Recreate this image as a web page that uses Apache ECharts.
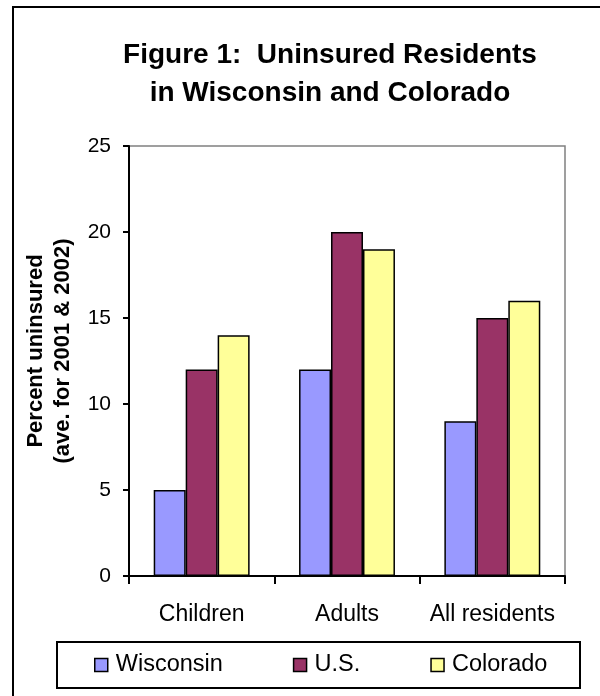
<!DOCTYPE html>
<html>
<head>
<meta charset="utf-8">
<script src="https://cdn.jsdelivr.net/npm/echarts@6/dist/echarts.min.js"></script>
<style>
  html, body { margin: 0; padding: 0; background: #fff; overflow: hidden; }
  #chart { width: 600px; height: 696px; }
</style>
</head>
<body>
<div id="chart"></div>
<script>
// Uninsured residents, average for 2001 & 2002 (percent)
const categories = ['Children', 'Adults', 'All residents'];
const seriesNames = ['Wisconsin', 'U.S.', 'Colorado'];
const wisconsin = [5, 12, 9];
const unitedStates = [12, 20, 15];
const colorado = [14, 19, 16];
const yTicks = [0, 5, 10, 15, 20, 25];

const colors = ['#9999FF', '#993366', '#FFFF99'];
const font = 'Arial, "Liberation Sans", sans-serif';

const chart = echarts.init(document.getElementById('chart'), null, { renderer: 'canvas' });

function barSeries(name, data, color) {
  return {
    name: name,
    type: 'bar',
    data: data,
    barGap: '0%',
    barCategoryGap: '34%',
    itemStyle: { color: color, borderColor: '#000', borderWidth: 1.5 },
    emphasis: { disabled: true }
  };
}

chart.setOption({
  animation: false,
  backgroundColor: '#fff',
  textStyle: { fontFamily: font },
  title: {
    text: 'Figure 1:  Uninsured Residents\nin Wisconsin and Colorado',
    left: 330,
    top: 36,
    padding: 0,
    textAlign: 'center',
    textStyle: { fontFamily: font, fontSize: 28, fontWeight: 'bold', color: '#000', lineHeight: 38 }
  },
  grid: {
    left: 129, right: 35, top: 146, bottom: 120,
    show: true, borderColor: '#808080', borderWidth: 1.5, backgroundColor: '#fff'
  },
  legend: {
    data: seriesNames,
    left: 94,
    top: 653,
    padding: 0,
    icon: 'rect',
    itemWidth: 13,
    itemHeight: 13,
    itemGap: 70,
    itemStyle: { borderColor: '#000', borderWidth: 1.5 },
    textStyle: { fontFamily: font, fontSize: 23.5, lineHeight: 24, color: '#000', padding: [0, 0, 0, 3] }
  },
  xAxis: {
    type: 'category',
    data: categories,
    axisLine: { lineStyle: { color: '#000', width: 2 } },
    axisTick: { show: true, length: 8, lineStyle: { color: '#000', width: 2 } },
    axisLabel: { interval: 0, color: '#000', fontSize: 23, margin: 27, fontFamily: font },
    splitLine: { show: false }
  },
  yAxis: {
    type: 'value',
    min: yTicks[0],
    max: yTicks[yTicks.length - 1],
    interval: 5,
    name: 'Percent uninsured\n(ave. for 2001 & 2002)',
    nameLocation: 'middle',
    nameRotate: 90,
    nameGap: 38,
    nameTextStyle: {
      fontFamily: font, fontSize: 22, fontWeight: 'bold', color: '#000', lineHeight: 27,
      padding: [0, 0, 0, 20]
    },
    axisLine: { show: true, lineStyle: { color: '#000', width: 2 } },
    axisTick: { show: true, length: 6, lineStyle: { color: '#000', width: 2 } },
    axisLabel: { color: '#000', fontSize: 21, margin: 18, fontFamily: font },
    splitLine: { show: false }
  },
  series: [
    barSeries(seriesNames[0], wisconsin, colors[0]),
    barSeries(seriesNames[1], unitedStates, colors[1]),
    barSeries(seriesNames[2], colorado, colors[2])
  ],
  graphic: [
    {
      // outer chart frame (right and bottom edges run past the canvas)
      type: 'rect',
      silent: true,
      z: 100,
      shape: { x: 13, y: 7, width: 700, height: 800 },
      style: { fill: 'none', stroke: '#000', lineWidth: 2 }
    },
    {
      // legend box
      type: 'rect',
      silent: true,
      z: 100,
      shape: { x: 57, y: 642, width: 523, height: 46 },
      style: { fill: 'none', stroke: '#000', lineWidth: 2 }
    }
  ]
});
</script>
</body>
</html>
